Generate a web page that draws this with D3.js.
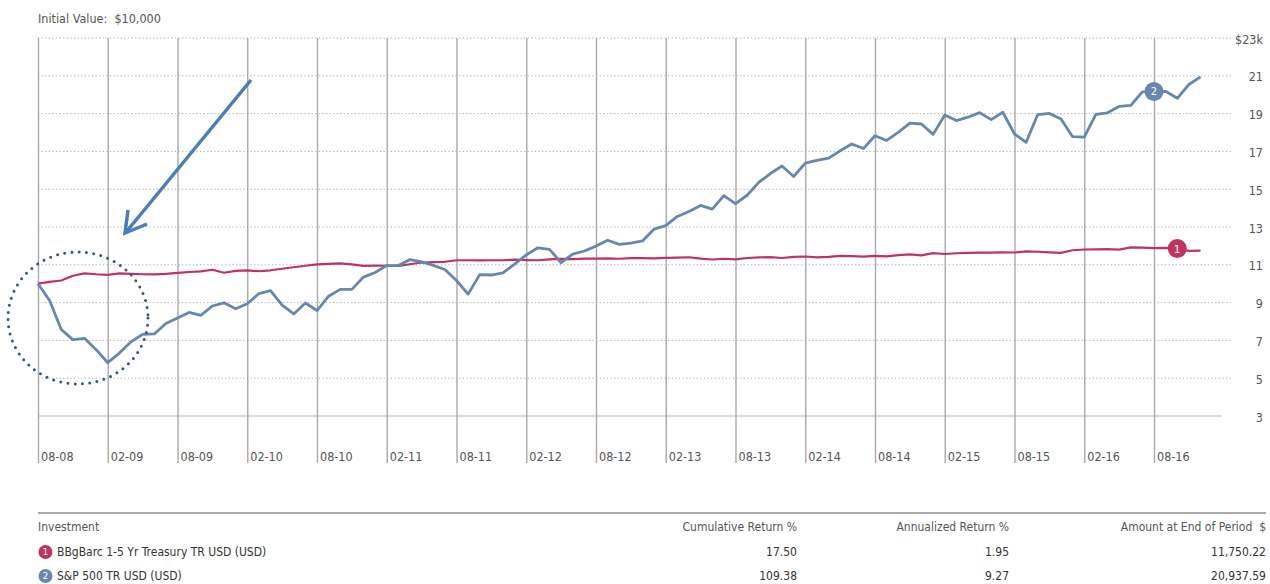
<!DOCTYPE html>
<html>
<head>
<meta charset="utf-8">
<script src="https://cdn.jsdelivr.net/npm/d3@7"></script>
<style>
  body { margin: 0; background: #fff; }
  svg { display: block; }
  text { font-family: "Liberation Sans Narrow", "DejaVu Sans Condensed", "Liberation Sans", sans-serif; }
</style>
</head>
<body>
<div id="root"></div>
<script>
// growth of $10,000, monthly, 08-08 .. 12-16 (values in $k)
const sp500 = [10.00, 9.11, 7.58, 7.04, 7.11, 6.51, 5.82, 6.33, 6.93, 7.32, 7.34, 7.89, 8.18, 8.48, 8.32, 8.82, 8.99, 8.67, 8.94, 9.48,
  9.63, 8.86, 8.40, 8.98, 8.58, 9.34, 9.70, 9.70, 10.35, 10.59, 10.96, 10.96, 11.28, 11.16, 10.97, 10.75, 10.17, 9.45, 10.48, 10.46,
  10.57, 11.04, 11.52, 11.90, 11.82, 11.11, 11.57, 11.73, 11.99, 12.30, 12.08, 12.15, 12.26, 12.89, 13.07, 13.56, 13.82, 14.14, 13.95, 14.66,
  14.24, 14.68, 15.36, 15.83, 16.23, 15.67, 16.38, 16.52, 16.64, 17.03, 17.39, 17.15, 17.83, 17.58, 18.01, 18.50, 18.45, 17.90, 18.93, 18.63,
  18.81, 19.05, 18.68, 19.07, 17.92, 17.48, 18.95, 19.01, 18.71, 17.78, 17.76, 18.96, 19.04, 19.38, 19.43, 20.15, 20.17, 20.18, 19.81, 20.54,
  20.94]
const treasury = [10.00, 10.10, 10.17, 10.42, 10.55, 10.50, 10.47, 10.55, 10.52, 10.50, 10.49, 10.52, 10.57, 10.62, 10.65, 10.74, 10.58, 10.68, 10.70, 10.66,
  10.71, 10.79, 10.87, 10.95, 11.02, 11.05, 11.08, 11.02, 10.94, 10.96, 10.95, 10.94, 11.03, 11.12, 11.14, 11.16, 11.24, 11.24, 11.23, 11.24,
  11.24, 11.27, 11.25, 11.24, 11.29, 11.31, 11.30, 11.33, 11.33, 11.34, 11.32, 11.35, 11.35, 11.34, 11.37, 11.38, 11.40, 11.33, 11.28, 11.32,
  11.29, 11.36, 11.39, 11.41, 11.36, 11.42, 11.44, 11.39, 11.42, 11.47, 11.46, 11.43, 11.47, 11.45, 11.51, 11.55, 11.50, 11.62, 11.57, 11.61,
  11.63, 11.64, 11.64, 11.66, 11.65, 11.71, 11.69, 11.66, 11.63, 11.77, 11.81, 11.82, 11.83, 11.80, 11.92, 11.91, 11.88, 11.90, 11.86, 11.74,
  11.75]

const xTickMonths = [0, 6, 12, 18, 24, 30, 36, 42, 48, 54, 60, 66, 72, 78, 84, 90, 96]
const xTickLabels = ["08-08", "02-09", "08-09", "02-10", "08-10", "02-11", "08-11", "02-12", "08-12",
  "02-13", "08-13", "02-14", "08-14", "02-15", "08-15", "02-16", "08-16"]
const yTicks = [3, 5, 7, 9, 11, 13, 15, 17, 19, 21, 23]

const tableHeader = ["Investment", "Cumulative Return %", "Annualized Return %", "Amount at End of Period  $"]
const investments = ["BBgBarc 1-5 Yr Treasury TR USD (USD)", "S&P 500 TR USD (USD)"]
const cumulative = ["17.50", "109.38"]
const annualized = ["1.95", "9.27"]
const endAmount = ["11,750.22", "20,937.59"]

const colors = { treasury: "#c0335d", sp500: "#6587b0" }

const W = 1270, H = 584
const svg = d3.select("#root").append("svg").attr("width", W).attr("height", H)
svg.append("rect").attr("width", W).attr("height", H).attr("fill", "#fff")

const plot = { left: 38, top: 38, gridRight: 1232, axisY: 463 }
const x = d3.scaleLinear().domain([0, 100]).range([38, 1200.5])
const y = d3.scaleLinear().domain([3, 23]).range([416, 38])

svg.append("text")
  .attr("x", 38).attr("y", 23)
  .attr("font-size", 12.5).attr("fill", "#555")
  .text("Initial Value:\u00a0 $10,000")

// horizontal gridlines (dotted), bottom one solid
svg.append("g").selectAll("line")
  .data(yTicks)
  .join("line")
  .attr("x1", plot.left)
  .attr("x2", d => d == 3 ? 1222 : plot.gridRight)
  .attr("y1", d => y(d)).attr("y2", d => y(d))
  .attr("stroke", d => d == 3 ? "#b5b5b5" : "#a8a8a8")
  .attr("stroke-width", 1)
  .attr("stroke-dasharray", d => d == 3 ? null : "1.2,2.4")

// vertical gridlines + month labels
const xAxis = svg.append("g")
  .attr("transform", `translate(0,${plot.axisY})`)
  .call(d3.axisBottom(x).tickValues(xTickMonths)
    .tickFormat((d, i) => xTickLabels[i])
    .tickSize(-(plot.axisY - plot.top)))
xAxis.select(".domain").remove()
xAxis.selectAll("line").attr("stroke", "#a9a9a9").attr("stroke-width", 1.4)
xAxis.selectAll("text")
  .attr("text-anchor", "start")
  .attr("x", 2.5).attr("y", -2.5).attr("dy", null)
  .attr("font-size", 12.5).attr("fill", "#555")

// value labels on the right
const yAxis = svg.append("g")
  .attr("transform", `translate(${plot.gridRight},0)`)
  .call(d3.axisRight(y).tickValues(yTicks)
    .tickFormat(d => d == 23 ? "$23k" : d)
    .tickSize(0))
yAxis.select(".domain").remove()
yAxis.selectAll("text")
  .attr("text-anchor", "end")
  .attr("x", 31).attr("dy", "0.4em")
  .attr("font-size", 12.5).attr("fill", "#555")

const line = d3.line().x((d, i) => x(i)).y(d => y(d))

svg.append("path").datum(treasury)
  .attr("d", line).attr("fill", "none")
  .attr("stroke", colors.treasury).attr("stroke-width", 2.2)
  .attr("stroke-linejoin", "round")
svg.append("path").datum(sp500)
  .attr("d", line).attr("fill", "none")
  .attr("stroke", colors.sp500).attr("stroke-width", 2.8)
  .attr("stroke-linejoin", "round")

// series badges on the lines
const badges = [
  { n: "1", i: 98, v: treasury[98], c: colors.treasury },
  { n: "2", i: 96, v: sp500[96], c: colors.sp500 }
]
badges.forEach(b => {
  svg.append("circle").attr("cx", x(b.i)).attr("cy", y(b.v)).attr("r", 9.5).attr("fill", b.c)
  svg.append("text").attr("x", x(b.i)).attr("y", y(b.v)).attr("dy", "0.36em")
    .attr("text-anchor", "middle").attr("font-size", 11).attr("fill", "#fff").text(b.n)
})

// annotation: dotted circle around the 2008-09 drop and the arrow pointing at it
svg.append("ellipse")
  .attr("cx", 78).attr("cy", 318).attr("rx", 70).attr("ry", 66)
  .attr("fill", "none").attr("stroke", "#2f5597").attr("stroke-width", 3)
  .attr("stroke-linecap", "round").attr("stroke-dasharray", "0,7.3")
svg.append("line")
  .attr("x1", 251).attr("y1", 80).attr("x2", 127).attr("y2", 231)
  .attr("stroke", "#4a7ebb").attr("stroke-width", 3.5)
svg.append("path")
  .attr("d", "M128,210 L125,233 L147,224")
  .attr("fill", "none").attr("stroke", "#4a7ebb").attr("stroke-width", 3.5)
  .attr("stroke-linejoin", "miter")

// table
svg.append("line").attr("x1", 38).attr("x2", 1266).attr("y1", 513).attr("y2", 513)
  .attr("stroke", "#555").attr("stroke-width", 1)
const colRight = [null, 797, 1009, 1266]
tableHeader.forEach((h, i) => {
  svg.append("text")
    .attr("x", i == 0 ? 38 : colRight[i]).attr("y", 531)
    .attr("text-anchor", i == 0 ? "start" : "end")
    .attr("font-size", 12).attr("fill", "#555")
    .style("white-space", "pre")
    .text(h)
})
investments.forEach((name, r) => {
  const yy = 556 + r * 24
  const c = r == 0 ? colors.treasury : colors.sp500
  svg.append("circle").attr("cx", 45.5).attr("cy", yy - 4).attr("r", 7).attr("fill", c)
  svg.append("text").attr("x", 45.5).attr("y", yy - 4).attr("dy", "0.36em")
    .attr("text-anchor", "middle").attr("font-size", 9.5).attr("fill", "#fff").text(r + 1)
  svg.append("text").attr("x", 57).attr("y", yy)
    .attr("font-size", 12).attr("fill", "#333").text(name)
  const vals = [cumulative[r], annualized[r], endAmount[r]]
  vals.forEach((v, j) => {
    svg.append("text").attr("x", colRight[j + 1]).attr("y", yy)
      .attr("text-anchor", "end").attr("font-size", 12).attr("fill", "#333").text(v)
  })
})
</script>
</body>
</html>
